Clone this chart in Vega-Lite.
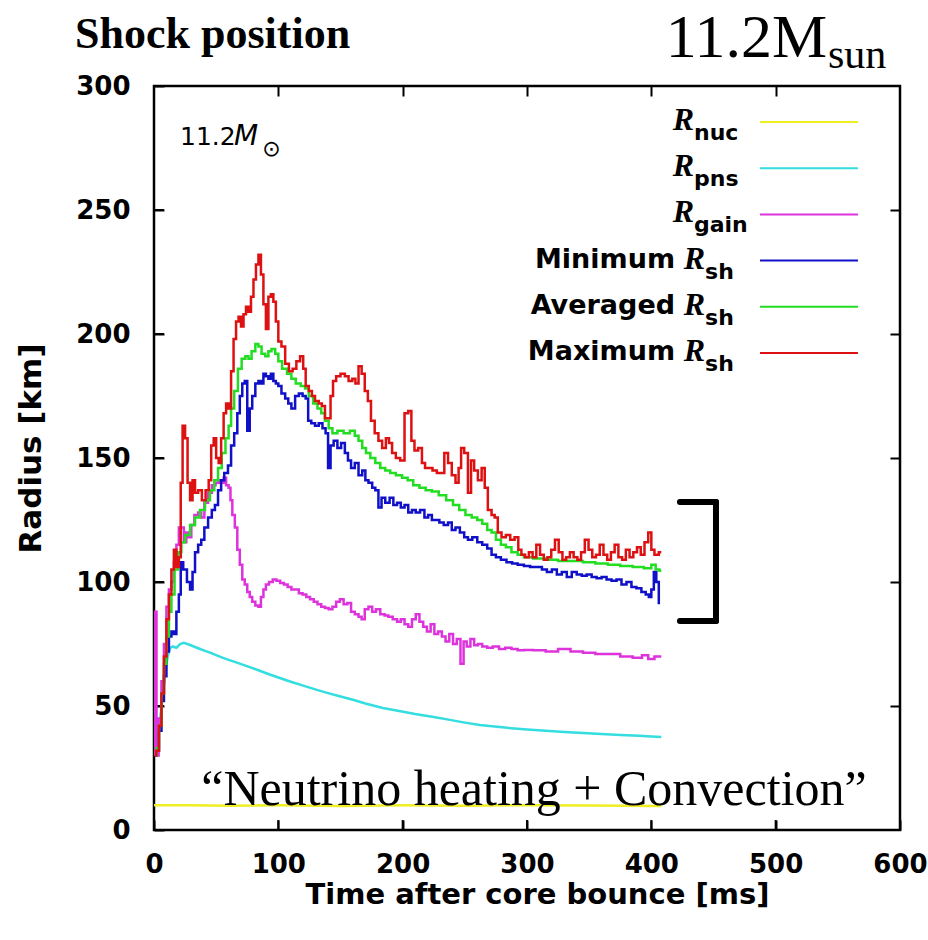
{
  "$schema": "https://vega.github.io/schema/vega-lite/v6.json",
  "width": 746,
  "height": 744,
  "autosize": {"type": "none"},
  "padding": {"left": 154, "top": 86, "right": 28, "bottom": 110},
  "background": "white",
  "config": {"view": {"stroke": "black", "strokeWidth": 2.5}},
  "datasets": {
    "xt": [{"v":100},{"v":200},{"v":300},{"v":400},{"v":500}],
    "yt": [{"v":50},{"v":100},{"v":150},{"v":200},{"v":250}],
    "curves": [
      {"s":"nuc","t":0,"r":10},{"s":"nuc","t":30,"r":10},{"s":"nuc","t":60,"r":9.8},{"s":"nuc","t":100,"r":10},{"s":"nuc","t":150,"r":9.7},{"s":"nuc","t":200,"r":10},{"s":"nuc","t":250,"r":9.8},{"s":"nuc","t":300,"r":10},{"s":"nuc","t":350,"r":9.9},{"s":"nuc","t":408,"r":9.7},
      {"s":"pns","t":1,"r":30},{"s":"pns","t":3,"r":36},{"s":"pns","t":5,"r":45},{"s":"pns","t":7,"r":54},{"s":"pns","t":9,"r":63},{"s":"pns","t":11,"r":70},{"s":"pns","t":13,"r":73.4},{"s":"pns","t":15,"r":74},{"s":"pns","t":18,"r":73.5},{"s":"pns","t":21,"r":75},{"s":"pns","t":24,"r":75.5},{"s":"pns","t":28,"r":74.8},{"s":"pns","t":32,"r":74},{"s":"pns","t":36,"r":73.2},{"s":"pns","t":40,"r":72.4},{"s":"pns","t":45,"r":71.5},{"s":"pns","t":50,"r":70.5},{"s":"pns","t":55,"r":69.5},{"s":"pns","t":60,"r":68.6},{"s":"pns","t":65,"r":67.8},{"s":"pns","t":70,"r":66.9},{"s":"pns","t":77,"r":65.7},{"s":"pns","t":85,"r":64.2},{"s":"pns","t":92,"r":62.9},{"s":"pns","t":100,"r":61.5},{"s":"pns","t":110,"r":59.8},{"s":"pns","t":120,"r":58.2},{"s":"pns","t":131,"r":56.5},{"s":"pns","t":140,"r":55.2},{"s":"pns","t":150,"r":53.8},{"s":"pns","t":160,"r":52.5},{"s":"pns","t":170,"r":51},{"s":"pns","t":184,"r":49.2},{"s":"pns","t":195,"r":48.2},{"s":"pns","t":210,"r":46.8},{"s":"pns","t":225,"r":45.6},{"s":"pns","t":238,"r":44.4},{"s":"pns","t":250,"r":43.3},{"s":"pns","t":262,"r":42.3},{"s":"pns","t":278,"r":41.5},{"s":"pns","t":290,"r":40.9},{"s":"pns","t":300,"r":40.5},{"s":"pns","t":315,"r":40},{"s":"pns","t":330,"r":39.5},{"s":"pns","t":345,"r":39.1},{"s":"pns","t":360,"r":38.7},{"s":"pns","t":375,"r":38.3},{"s":"pns","t":390,"r":38},{"s":"pns","t":400,"r":37.7},{"s":"pns","t":408,"r":37.5},
      {"s":"gain","t":0.5,"r":30},{"s":"gain","t":1.5,"r":88},{"s":"gain","t":2.5,"r":30},{"s":"gain","t":5,"r":45},{"s":"gain","t":7,"r":60},{"s":"gain","t":9,"r":75},{"s":"gain","t":11,"r":90},{"s":"gain","t":13,"r":97},{"s":"gain","t":15,"r":100},{"s":"gain","t":17,"r":108},{"s":"gain","t":19,"r":115},{"s":"gain","t":21,"r":122},{"s":"gain","t":23,"r":122},{"s":"gain","t":25,"r":116},{"s":"gain","t":27,"r":120},{"s":"gain","t":29,"r":118},{"s":"gain","t":31,"r":123},{"s":"gain","t":34,"r":127},{"s":"gain","t":37,"r":128},{"s":"gain","t":39,"r":126},{"s":"gain","t":42,"r":132},{"s":"gain","t":45,"r":136},{"s":"gain","t":48,"r":139},{"s":"gain","t":51,"r":140},{"s":"gain","t":53,"r":141},{"s":"gain","t":55,"r":140},{"s":"gain","t":57,"r":142},{"s":"gain","t":59,"r":139},{"s":"gain","t":61,"r":138},{"s":"gain","t":62,"r":133},{"s":"gain","t":64,"r":127},{"s":"gain","t":66,"r":122},{"s":"gain","t":68,"r":113},{"s":"gain","t":70,"r":107},{"s":"gain","t":72,"r":101},{"s":"gain","t":74,"r":99},{"s":"gain","t":76,"r":96},{"s":"gain","t":78,"r":94},{"s":"gain","t":80,"r":92},{"s":"gain","t":83,"r":90.5},{"s":"gain","t":85,"r":90},{"s":"gain","t":87,"r":94},{"s":"gain","t":89,"r":97},{"s":"gain","t":91,"r":99},{"s":"gain","t":94,"r":100},{"s":"gain","t":97,"r":101},{"s":"gain","t":100,"r":100.5},{"s":"gain","t":103,"r":99.6},{"s":"gain","t":106,"r":99},{"s":"gain","t":109,"r":98},{"s":"gain","t":112,"r":97},{"s":"gain","t":115,"r":97},{"s":"gain","t":118,"r":95.5},{"s":"gain","t":121,"r":95},{"s":"gain","t":124,"r":94},{"s":"gain","t":127,"r":93},{"s":"gain","t":130,"r":92},{"s":"gain","t":133,"r":91},{"s":"gain","t":136,"r":90},{"s":"gain","t":139,"r":89.5},{"s":"gain","t":142,"r":89},{"s":"gain","t":145,"r":90},{"s":"gain","t":148,"r":92},{"s":"gain","t":151,"r":93},{"s":"gain","t":154,"r":91},{"s":"gain","t":157,"r":91.5},{"s":"gain","t":160,"r":88},{"s":"gain","t":163,"r":87},{"s":"gain","t":166,"r":86},{"s":"gain","t":168,"r":85},{"s":"gain","t":171,"r":89},{"s":"gain","t":174,"r":90},{"s":"gain","t":177,"r":88},{"s":"gain","t":180,"r":89},{"s":"gain","t":184,"r":87},{"s":"gain","t":187,"r":86.5},{"s":"gain","t":190,"r":86},{"s":"gain","t":194,"r":85},{"s":"gain","t":197,"r":84},{"s":"gain","t":200,"r":85},{"s":"gain","t":203,"r":83},{"s":"gain","t":206,"r":82},{"s":"gain","t":209,"r":85},{"s":"gain","t":212,"r":87},{"s":"gain","t":215,"r":84},{"s":"gain","t":218,"r":82},{"s":"gain","t":221,"r":80},{"s":"gain","t":224,"r":83},{"s":"gain","t":227,"r":79},{"s":"gain","t":230,"r":80},{"s":"gain","t":233,"r":78},{"s":"gain","t":236,"r":76},{"s":"gain","t":239,"r":79},{"s":"gain","t":242,"r":75},{"s":"gain","t":245,"r":77},{"s":"gain","t":248,"r":67},{"s":"gain","t":250,"r":76},{"s":"gain","t":253,"r":74},{"s":"gain","t":256,"r":77},{"s":"gain","t":259,"r":74.5},{"s":"gain","t":262,"r":75},{"s":"gain","t":266,"r":74},{"s":"gain","t":270,"r":73.5},{"s":"gain","t":275,"r":74},{"s":"gain","t":280,"r":73},{"s":"gain","t":285,"r":73.5},{"s":"gain","t":290,"r":73},{"s":"gain","t":295,"r":72.5},{"s":"gain","t":300,"r":72.6},{"s":"gain","t":310,"r":72.5},{"s":"gain","t":320,"r":72},{"s":"gain","t":330,"r":73},{"s":"gain","t":340,"r":72},{"s":"gain","t":350,"r":71.5},{"s":"gain","t":360,"r":71},{"s":"gain","t":370,"r":71},{"s":"gain","t":380,"r":70},{"s":"gain","t":390,"r":69.5},{"s":"gain","t":395,"r":70.5},{"s":"gain","t":400,"r":69},{"s":"gain","t":405,"r":70},{"s":"gain","t":408,"r":70},
      {"s":"min","t":1,"r":30},{"s":"min","t":3,"r":32},{"s":"min","t":5,"r":40},{"s":"min","t":7,"r":52},{"s":"min","t":9,"r":62},{"s":"min","t":11,"r":72},{"s":"min","t":13,"r":78},{"s":"min","t":15,"r":80},{"s":"min","t":17,"r":79},{"s":"min","t":19,"r":88},{"s":"min","t":21,"r":95},{"s":"min","t":22,"r":108},{"s":"min","t":25,"r":105},{"s":"min","t":28,"r":100},{"s":"min","t":30,"r":97},{"s":"min","t":32,"r":104},{"s":"min","t":34,"r":112},{"s":"min","t":37,"r":115},{"s":"min","t":39,"r":117},{"s":"min","t":42,"r":122},{"s":"min","t":45,"r":126},{"s":"min","t":48,"r":129},{"s":"min","t":50,"r":131},{"s":"min","t":53,"r":137},{"s":"min","t":55,"r":141},{"s":"min","t":58,"r":144},{"s":"min","t":61,"r":147},{"s":"min","t":63,"r":155},{"s":"min","t":66,"r":160},{"s":"min","t":68,"r":168},{"s":"min","t":70,"r":175},{"s":"min","t":72,"r":180},{"s":"min","t":74,"r":181},{"s":"min","t":76,"r":161},{"s":"min","t":78,"r":170},{"s":"min","t":80,"r":175},{"s":"min","t":83,"r":180},{"s":"min","t":85,"r":181},{"s":"min","t":87,"r":180},{"s":"min","t":89,"r":184},{"s":"min","t":91,"r":183},{"s":"min","t":93,"r":182},{"s":"min","t":95,"r":184},{"s":"min","t":97,"r":181},{"s":"min","t":99,"r":180},{"s":"min","t":101,"r":179},{"s":"min","t":104,"r":176},{"s":"min","t":107,"r":174},{"s":"min","t":109,"r":172},{"s":"min","t":112,"r":170},{"s":"min","t":115,"r":175},{"s":"min","t":118,"r":176},{"s":"min","t":121,"r":175},{"s":"min","t":123,"r":174},{"s":"min","t":125,"r":165},{"s":"min","t":128,"r":164},{"s":"min","t":131,"r":163},{"s":"min","t":134,"r":164},{"s":"min","t":137,"r":162},{"s":"min","t":139,"r":160},{"s":"min","t":141,"r":146},{"s":"min","t":143,"r":155},{"s":"min","t":146,"r":157},{"s":"min","t":149,"r":154},{"s":"min","t":152,"r":156},{"s":"min","t":155,"r":152},{"s":"min","t":157,"r":149},{"s":"min","t":160,"r":146},{"s":"min","t":163,"r":148},{"s":"min","t":166,"r":143},{"s":"min","t":169,"r":145},{"s":"min","t":171,"r":141},{"s":"min","t":174,"r":140},{"s":"min","t":177,"r":138},{"s":"min","t":179,"r":137},{"s":"min","t":182,"r":130},{"s":"min","t":184,"r":134},{"s":"min","t":188,"r":132},{"s":"min","t":191,"r":134},{"s":"min","t":194,"r":131},{"s":"min","t":197,"r":132},{"s":"min","t":200,"r":130},{"s":"min","t":203,"r":131},{"s":"min","t":206,"r":128},{"s":"min","t":209,"r":129},{"s":"min","t":212,"r":128},{"s":"min","t":216,"r":129},{"s":"min","t":219,"r":126},{"s":"min","t":222,"r":127},{"s":"min","t":225,"r":125},{"s":"min","t":228,"r":125},{"s":"min","t":231,"r":124},{"s":"min","t":235,"r":123},{"s":"min","t":238,"r":124},{"s":"min","t":241,"r":121},{"s":"min","t":244,"r":122},{"s":"min","t":248,"r":120},{"s":"min","t":251,"r":118},{"s":"min","t":254,"r":117},{"s":"min","t":258,"r":118},{"s":"min","t":262,"r":116},{"s":"min","t":266,"r":115},{"s":"min","t":270,"r":113.5},{"s":"min","t":273,"r":111},{"s":"min","t":277,"r":110},{"s":"min","t":281,"r":109},{"s":"min","t":286,"r":108},{"s":"min","t":290,"r":107.5},{"s":"min","t":295,"r":107},{"s":"min","t":300,"r":106.5},{"s":"min","t":305,"r":106},{"s":"min","t":310,"r":106},{"s":"min","t":314,"r":105},{"s":"min","t":318,"r":104},{"s":"min","t":322,"r":105},{"s":"min","t":326,"r":103},{"s":"min","t":330,"r":104},{"s":"min","t":334,"r":102},{"s":"min","t":338,"r":104},{"s":"min","t":342,"r":103},{"s":"min","t":346,"r":102.5},{"s":"min","t":350,"r":103},{"s":"min","t":354,"r":102},{"s":"min","t":358,"r":101.5},{"s":"min","t":362,"r":102},{"s":"min","t":366,"r":101},{"s":"min","t":370,"r":100.5},{"s":"min","t":374,"r":101},{"s":"min","t":378,"r":99},{"s":"min","t":382,"r":100},{"s":"min","t":386,"r":98},{"s":"min","t":390,"r":97.5},{"s":"min","t":394,"r":96},{"s":"min","t":397,"r":95},{"s":"min","t":399,"r":94},{"s":"min","t":401,"r":97},{"s":"min","t":403,"r":104},{"s":"min","t":405,"r":100},{"s":"min","t":407,"r":91.5},
      {"s":"avg","t":1,"r":30},{"s":"avg","t":3,"r":33},{"s":"avg","t":5,"r":42},{"s":"avg","t":7,"r":55},{"s":"avg","t":9,"r":67},{"s":"avg","t":11,"r":78},{"s":"avg","t":13,"r":88},{"s":"avg","t":15,"r":95},{"s":"avg","t":18,"r":105},{"s":"avg","t":21,"r":112},{"s":"avg","t":23,"r":116},{"s":"avg","t":27,"r":119},{"s":"avg","t":31,"r":123},{"s":"avg","t":35,"r":126},{"s":"avg","t":39,"r":129},{"s":"avg","t":43,"r":133},{"s":"avg","t":47,"r":137},{"s":"avg","t":50,"r":141},{"s":"avg","t":53,"r":146},{"s":"avg","t":56,"r":152},{"s":"avg","t":59,"r":158},{"s":"avg","t":61,"r":163},{"s":"avg","t":63,"r":170},{"s":"avg","t":66,"r":177},{"s":"avg","t":69,"r":186},{"s":"avg","t":72,"r":190},{"s":"avg","t":75,"r":191},{"s":"avg","t":77,"r":190},{"s":"avg","t":80,"r":193},{"s":"avg","t":83,"r":196},{"s":"avg","t":85,"r":195},{"s":"avg","t":88,"r":192},{"s":"avg","t":91,"r":191},{"s":"avg","t":93,"r":193},{"s":"avg","t":96,"r":194},{"s":"avg","t":99,"r":192},{"s":"avg","t":101,"r":189},{"s":"avg","t":105,"r":186},{"s":"avg","t":109,"r":184},{"s":"avg","t":112,"r":182},{"s":"avg","t":116,"r":180},{"s":"avg","t":120,"r":179},{"s":"avg","t":123,"r":178},{"s":"avg","t":126,"r":175},{"s":"avg","t":130,"r":172},{"s":"avg","t":133,"r":170},{"s":"avg","t":136,"r":168},{"s":"avg","t":139,"r":165},{"s":"avg","t":142,"r":162},{"s":"avg","t":145,"r":160},{"s":"avg","t":150,"r":161},{"s":"avg","t":155,"r":160},{"s":"avg","t":160,"r":161},{"s":"avg","t":163,"r":159},{"s":"avg","t":166,"r":157},{"s":"avg","t":169,"r":154},{"s":"avg","t":172,"r":152},{"s":"avg","t":176,"r":150},{"s":"avg","t":180,"r":148},{"s":"avg","t":184,"r":146},{"s":"avg","t":188,"r":145},{"s":"avg","t":192,"r":144},{"s":"avg","t":197,"r":143},{"s":"avg","t":202,"r":142},{"s":"avg","t":206,"r":141},{"s":"avg","t":211,"r":139},{"s":"avg","t":216,"r":138},{"s":"avg","t":221,"r":137},{"s":"avg","t":226,"r":136.5},{"s":"avg","t":232,"r":135},{"s":"avg","t":238,"r":133},{"s":"avg","t":243,"r":131},{"s":"avg","t":248,"r":129},{"s":"avg","t":253,"r":127},{"s":"avg","t":258,"r":126},{"s":"avg","t":262,"r":125},{"s":"avg","t":266,"r":123.5},{"s":"avg","t":270,"r":121},{"s":"avg","t":273,"r":120},{"s":"avg","t":277,"r":117},{"s":"avg","t":281,"r":115},{"s":"avg","t":285,"r":114},{"s":"avg","t":290,"r":112},{"s":"avg","t":295,"r":111},{"s":"avg","t":300,"r":110},{"s":"avg","t":310,"r":109.5},{"s":"avg","t":320,"r":109},{"s":"avg","t":330,"r":108.5},{"s":"avg","t":340,"r":108.5},{"s":"avg","t":350,"r":108},{"s":"avg","t":360,"r":107.5},{"s":"avg","t":370,"r":107},{"s":"avg","t":380,"r":106.5},{"s":"avg","t":390,"r":106},{"s":"avg","t":398,"r":105.5},{"s":"avg","t":402,"r":107},{"s":"avg","t":405,"r":105},{"s":"avg","t":408,"r":104.5},
      {"s":"max","t":0.5,"r":30},{"s":"max","t":3,"r":32},{"s":"max","t":5,"r":42},{"s":"max","t":7,"r":55},{"s":"max","t":9,"r":70},{"s":"max","t":11,"r":85},{"s":"max","t":13,"r":95},{"s":"max","t":15,"r":105},{"s":"max","t":17,"r":113},{"s":"max","t":19,"r":106},{"s":"max","t":21,"r":110},{"s":"max","t":22,"r":140},{"s":"max","t":24,"r":163},{"s":"max","t":26,"r":158},{"s":"max","t":28,"r":140},{"s":"max","t":30,"r":133},{"s":"max","t":32,"r":141},{"s":"max","t":34,"r":136},{"s":"max","t":37,"r":137},{"s":"max","t":40,"r":133},{"s":"max","t":43,"r":137},{"s":"max","t":45,"r":141},{"s":"max","t":47,"r":155},{"s":"max","t":49,"r":158},{"s":"max","t":51,"r":150},{"s":"max","t":53,"r":148},{"s":"max","t":55,"r":158},{"s":"max","t":57,"r":168},{"s":"max","t":59,"r":172},{"s":"max","t":61,"r":170},{"s":"max","t":63,"r":185},{"s":"max","t":65,"r":198},{"s":"max","t":67,"r":205},{"s":"max","t":69,"r":207},{"s":"max","t":71,"r":203},{"s":"max","t":73,"r":208},{"s":"max","t":75,"r":211},{"s":"max","t":77,"r":209},{"s":"max","t":79,"r":215},{"s":"max","t":81,"r":222},{"s":"max","t":83,"r":228},{"s":"max","t":85,"r":232},{"s":"max","t":87,"r":224},{"s":"max","t":89,"r":212},{"s":"max","t":91,"r":202},{"s":"max","t":93,"r":215},{"s":"max","t":95,"r":216},{"s":"max","t":97,"r":213},{"s":"max","t":99,"r":205},{"s":"max","t":101,"r":197},{"s":"max","t":104,"r":195},{"s":"max","t":107,"r":188},{"s":"max","t":110,"r":185},{"s":"max","t":113,"r":186},{"s":"max","t":116,"r":189},{"s":"max","t":119,"r":191},{"s":"max","t":121,"r":186},{"s":"max","t":123,"r":179},{"s":"max","t":126,"r":177},{"s":"max","t":128,"r":175},{"s":"max","t":131,"r":173},{"s":"max","t":134,"r":172},{"s":"max","t":136,"r":171},{"s":"max","t":139,"r":166},{"s":"max","t":141,"r":166},{"s":"max","t":143,"r":175},{"s":"max","t":145,"r":181},{"s":"max","t":148,"r":183},{"s":"max","t":152,"r":184},{"s":"max","t":155,"r":183},{"s":"max","t":158,"r":181},{"s":"max","t":161,"r":182},{"s":"max","t":163,"r":180},{"s":"max","t":166,"r":187},{"s":"max","t":168,"r":184},{"s":"max","t":171,"r":177},{"s":"max","t":173,"r":173},{"s":"max","t":176,"r":165},{"s":"max","t":179,"r":160},{"s":"max","t":182,"r":157},{"s":"max","t":185,"r":154},{"s":"max","t":188,"r":158},{"s":"max","t":190,"r":156},{"s":"max","t":193,"r":152},{"s":"max","t":196,"r":150},{"s":"max","t":200,"r":149},{"s":"max","t":203,"r":168},{"s":"max","t":206,"r":169},{"s":"max","t":208,"r":157},{"s":"max","t":211,"r":153},{"s":"max","t":214,"r":154},{"s":"max","t":217,"r":148},{"s":"max","t":219,"r":146},{"s":"max","t":222,"r":146},{"s":"max","t":226,"r":145},{"s":"max","t":229,"r":144},{"s":"max","t":232,"r":144},{"s":"max","t":235,"r":152},{"s":"max","t":238,"r":148},{"s":"max","t":241,"r":143},{"s":"max","t":244,"r":140},{"s":"max","t":246,"r":146},{"s":"max","t":248,"r":154},{"s":"max","t":251,"r":152},{"s":"max","t":254,"r":136},{"s":"max","t":256,"r":149},{"s":"max","t":259,"r":145},{"s":"max","t":262,"r":141},{"s":"max","t":265,"r":146},{"s":"max","t":267,"r":138},{"s":"max","t":270,"r":129},{"s":"max","t":273,"r":127},{"s":"max","t":275,"r":126},{"s":"max","t":278,"r":120},{"s":"max","t":281,"r":118},{"s":"max","t":285,"r":119},{"s":"max","t":288,"r":117},{"s":"max","t":292,"r":118},{"s":"max","t":294,"r":113},{"s":"max","t":297,"r":111},{"s":"max","t":300,"r":110},{"s":"max","t":303,"r":112},{"s":"max","t":306,"r":110},{"s":"max","t":309,"r":115},{"s":"max","t":312,"r":111},{"s":"max","t":315,"r":109},{"s":"max","t":318,"r":110},{"s":"max","t":321,"r":113},{"s":"max","t":324,"r":117},{"s":"max","t":327,"r":112},{"s":"max","t":330,"r":109},{"s":"max","t":333,"r":110},{"s":"max","t":336,"r":112},{"s":"max","t":339,"r":110},{"s":"max","t":342,"r":109},{"s":"max","t":345,"r":112},{"s":"max","t":348,"r":117},{"s":"max","t":351,"r":113},{"s":"max","t":354,"r":110},{"s":"max","t":357,"r":111},{"s":"max","t":360,"r":115},{"s":"max","t":363,"r":111},{"s":"max","t":366,"r":109},{"s":"max","t":369,"r":112},{"s":"max","t":372,"r":115},{"s":"max","t":375,"r":110},{"s":"max","t":378,"r":109},{"s":"max","t":381,"r":113},{"s":"max","t":384,"r":110},{"s":"max","t":387,"r":112},{"s":"max","t":390,"r":114},{"s":"max","t":393,"r":111},{"s":"max","t":396,"r":116},{"s":"max","t":399,"r":120},{"s":"max","t":401,"r":113},{"s":"max","t":404,"r":111},{"s":"max","t":408,"r":112}
    ],
    "leg": [
      {"s":"nuc","pre":"","sub":"nuc"},
      {"s":"pns","pre":"","sub":"pns"},
      {"s":"gain","pre":"","sub":"gain"},
      {"s":"min","pre":"Minimum","sub":"sh"},
      {"s":"avg","pre":"Averaged","sub":"sh"},
      {"s":"max","pre":"Maximum","sub":"sh"}
    ]
  },
  "layer": [
    {
      "data": {"name": "curves"},
      "transform": [{"filter": "datum.s == 'nuc' || datum.s == 'pns'"}],
      "mark": {"type": "line", "strokeWidth": 2.5, "clip": true},
      "encoding": {
        "x": {"field": "t", "type": "quantitative", "scale": {"domain": [0, 600], "nice": false, "zero": false},
          "axis": {"orient": "bottom", "values": [0,100,200,300,400,500,600], "title": "Time after core bounce [ms]", "grid": false, "domain": false,
            "tickSize": -10, "tickWidth": 2, "tickColor": "black", "labelFont": "DejaVu Sans", "labelFontWeight": "bold", "labelFontSize": 26,
            "labelColor": "black", "labelPadding": 31, "labelFlush": false, "labelOverlap": false,
            "titleFont": "DejaVu Sans", "titleFontWeight": "bold", "titleFontSize": 29, "titleColor": "black", "titlePadding": 3, "titleX": 383}},
        "y": {"field": "r", "type": "quantitative", "scale": {"domain": [0, 300], "nice": false, "zero": false},
          "axis": {"orient": "left", "values": [0,50,100,150,200,250,300], "title": "Radius [km]", "grid": false, "domain": false,
            "tickSize": -10, "tickWidth": 2, "tickColor": "black", "labelFont": "DejaVu Sans", "labelFontWeight": "bold", "labelFontSize": 26,
            "labelColor": "black", "labelPadding": 34, "labelFlush": false, "labelOverlap": false,
            "titleFont": "DejaVu Sans", "titleFontWeight": "bold", "titleFontSize": 31, "titleColor": "black", "titlePadding": 28, "titleY": 362}},
        "color": {"field": "s", "type": "nominal", "legend": null,
          "scale": {"domain": ["nuc","pns","gain","min","avg","max"], "range": ["#eeee22","#33dde0","#dd33dd","#1010c8","#22dd22","#dd1111"]}}
      }
    },
    {
      "data": {"values": [{}]},
      "mark": {"type": "point", "opacity": 0},
      "encoding": {
        "x": {"datum": 0, "type": "quantitative", "scale": {"domain": [0, 600], "nice": false, "zero": false},
          "axis": {"orient": "top", "values": [100,200,300,400,500], "labels": false, "domain": false, "grid": false, "tickSize": -10, "tickWidth": 2, "tickColor": "black", "title": null}},
        "y": {"datum": 0, "type": "quantitative", "scale": {"domain": [0, 300], "nice": false, "zero": false},
          "axis": {"orient": "right", "values": [50,100,150,200,250], "labels": false, "domain": false, "grid": false, "tickSize": -10, "tickWidth": 2, "tickColor": "black", "title": null}}
      }
    },
    {
      "data": {"name": "xt"},
      "mark": {"type": "rule", "stroke": "black", "strokeWidth": 2},
      "encoding": {
        "x": {"field": "v", "type": "quantitative", "scale": {"domain": [0, 600], "nice": false, "zero": false}, "axis": null},
        "y": {"datum": 0, "type": "quantitative", "scale": {"domain": [0, 300], "nice": false, "zero": false}, "axis": null},
        "y2": {"datum": 4}
      }
    },
    {
      "data": {"name": "yt"},
      "mark": {"type": "rule", "stroke": "black", "strokeWidth": 2},
      "encoding": {
        "y": {"field": "v", "type": "quantitative", "scale": {"domain": [0, 300], "nice": false, "zero": false}, "axis": null},
        "x": {"datum": 0, "type": "quantitative", "scale": {"domain": [0, 600], "nice": false, "zero": false}, "axis": null},
        "x2": {"datum": 8}
      }
    },
    {
      "data": {"name": "curves"},
      "transform": [{"filter": "datum.s != 'nuc' && datum.s != 'pns'"}],
      "mark": {"type": "line", "strokeWidth": 2.5, "interpolate": "step", "clip": true},
      "encoding": {
        "x": {"field": "t", "type": "quantitative", "scale": {"domain": [0, 600], "nice": false, "zero": false}, "axis": null},
        "y": {"field": "r", "type": "quantitative", "scale": {"domain": [0, 300], "nice": false, "zero": false}, "axis": null},
        "color": {"field": "s", "type": "nominal", "legend": null,
          "scale": {"domain": ["nuc","pns","gain","min","avg","max"], "range": ["#eeee22","#33dde0","#dd33dd","#1010c8","#22dd22","#dd1111"]}}
      }
    },
    {
      "data": {"values": [{}]},
      "mark": {"type": "rule", "stroke": "black", "strokeWidth": 6, "strokeCap": "round"},
      "encoding": {
        "x": {"datum": 423, "type": "quantitative", "scale": {"domain": [0, 600], "nice": false, "zero": false}, "axis": null},
        "x2": {"datum": 452},
        "y": {"datum": 132.3, "type": "quantitative", "scale": {"domain": [0, 300], "nice": false, "zero": false}, "axis": null}
      }
    },
    {
      "data": {"values": [{}]},
      "mark": {"type": "rule", "stroke": "black", "strokeWidth": 6, "strokeCap": "round"},
      "encoding": {
        "x": {"datum": 423, "type": "quantitative", "scale": {"domain": [0, 600], "nice": false, "zero": false}, "axis": null},
        "x2": {"datum": 452},
        "y": {"datum": 84.3, "type": "quantitative", "scale": {"domain": [0, 300], "nice": false, "zero": false}, "axis": null}
      }
    },
    {
      "data": {"values": [{}]},
      "mark": {"type": "rule", "stroke": "black", "strokeWidth": 6, "strokeCap": "round"},
      "encoding": {
        "x": {"datum": 452, "type": "quantitative", "scale": {"domain": [0, 600], "nice": false, "zero": false}, "axis": null},
        "y": {"datum": 84.3, "type": "quantitative", "scale": {"domain": [0, 300], "nice": false, "zero": false}, "axis": null},
        "y2": {"datum": 132.3}
      }
    },
    {
      "data": {"values": [{}]},
      "mark": {"type": "text", "text": "Shock position", "font": "Liberation Serif", "fontWeight": "bold", "fontSize": 44, "align": "left", "baseline": "alphabetic", "color": "black"},
      "encoding": {
        "x": {"datum": -63.5, "type": "quantitative", "scale": {"domain": [0, 600], "nice": false, "zero": false}, "axis": null},
        "y": {"datum": 315.3, "type": "quantitative", "scale": {"domain": [0, 300], "nice": false, "zero": false}, "axis": null}
      }
    },
    {
      "data": {"values": [{}]},
      "mark": {"type": "text", "text": "11.2M", "font": "Liberation Serif", "fontSize": 62, "align": "right", "baseline": "alphabetic", "color": "black"},
      "encoding": {
        "x": {"datum": 541.3, "type": "quantitative", "scale": {"domain": [0, 600], "nice": false, "zero": false}, "axis": null},
        "y": {"datum": 311.7, "type": "quantitative", "scale": {"domain": [0, 300], "nice": false, "zero": false}, "axis": null}
      }
    },
    {
      "data": {"values": [{}]},
      "mark": {"type": "text", "text": "sun", "font": "Liberation Serif", "fontSize": 42, "align": "left", "baseline": "alphabetic", "color": "black"},
      "encoding": {
        "x": {"datum": 542, "type": "quantitative", "scale": {"domain": [0, 600], "nice": false, "zero": false}, "axis": null},
        "y": {"datum": 307.3, "type": "quantitative", "scale": {"domain": [0, 300], "nice": false, "zero": false}, "axis": null}
      }
    },
    {
      "data": {"values": [{}]},
      "mark": {"type": "text", "text": "“Neutrino heating + Convection”", "font": "Liberation Serif", "fontSize": 50, "align": "center", "baseline": "alphabetic", "color": "black"},
      "encoding": {
        "x": {"datum": 305.6, "type": "quantitative", "scale": {"domain": [0, 600], "nice": false, "zero": false}, "axis": null},
        "y": {"datum": 10.1, "type": "quantitative", "scale": {"domain": [0, 300], "nice": false, "zero": false}, "axis": null}
      }
    },
    {
      "data": {"values": [{}]},
      "mark": {"type": "text", "text": "11.2", "font": "DejaVu Sans", "fontSize": 25, "align": "left", "baseline": "alphabetic", "color": "black"},
      "encoding": {
        "x": {"datum": 20.9, "type": "quantitative", "scale": {"domain": [0, 600], "nice": false, "zero": false}, "axis": null},
        "y": {"datum": 276.2, "type": "quantitative", "scale": {"domain": [0, 300], "nice": false, "zero": false}, "axis": null}
      }
    },
    {
      "data": {"values": [{}]},
      "mark": {"type": "text", "text": "M", "font": "DejaVu Sans", "fontStyle": "italic", "fontSize": 28, "align": "left", "baseline": "alphabetic", "color": "black"},
      "encoding": {
        "x": {"datum": 64.3, "type": "quantitative", "scale": {"domain": [0, 600], "nice": false, "zero": false}, "axis": null},
        "y": {"datum": 276.2, "type": "quantitative", "scale": {"domain": [0, 300], "nice": false, "zero": false}, "axis": null}
      }
    },
    {
      "data": {"values": [{}]},
      "mark": {"type": "text", "text": "⊙", "font": "DejaVu Sans", "fontSize": 22, "align": "left", "baseline": "alphabetic", "color": "black"},
      "encoding": {
        "x": {"datum": 87, "type": "quantitative", "scale": {"domain": [0, 600], "nice": false, "zero": false}, "axis": null},
        "y": {"datum": 271.8, "type": "quantitative", "scale": {"domain": [0, 300], "nice": false, "zero": false}, "axis": null}
      }
    },
    {
      "data": {"name": "leg"},
      "transform": [{"filter": "datum.pre == ''"}],
      "mark": {"type": "text", "text": "R", "font": "Liberation Serif", "fontStyle": "italic", "fontWeight": "bold", "fontSize": 32, "align": "right", "baseline": "alphabetic", "dy": 8, "color": "black"},
      "encoding": {
        "x": {"datum": 434.3, "type": "quantitative", "scale": {"domain": [0, 600], "nice": false, "zero": false}, "axis": null},
        "y": {"datum": 300, "type": "quantitative", "scale": {"domain": [0, 300], "nice": false, "zero": false}, "axis": null},
        "yOffset": {"field": "s", "type": "nominal", "scale": {"type": "point", "domain": ["nuc","pns","gain","min","avg","max"], "range": [36, 267], "padding": 0}}
      }
    },
    {
      "data": {"name": "leg"},
      "transform": [{"filter": "datum.pre == ''"}],
      "mark": {"type": "text", "font": "DejaVu Sans", "fontWeight": "bold", "fontSize": 22, "align": "left", "baseline": "alphabetic", "dy": 18, "color": "black"},
      "encoding": {
        "text": {"field": "sub"},
        "x": {"datum": 434.3, "type": "quantitative", "scale": {"domain": [0, 600], "nice": false, "zero": false}, "axis": null},
        "y": {"datum": 300, "type": "quantitative", "scale": {"domain": [0, 300], "nice": false, "zero": false}, "axis": null},
        "yOffset": {"field": "s", "type": "nominal", "scale": {"type": "point", "domain": ["nuc","pns","gain","min","avg","max"], "range": [36, 267], "padding": 0}}
      }
    },
    {
      "data": {"name": "leg"},
      "transform": [{"filter": "datum.pre != ''"}],
      "mark": {"type": "text", "text": "R", "font": "Liberation Serif", "fontStyle": "italic", "fontWeight": "bold", "fontSize": 32, "align": "right", "baseline": "alphabetic", "dy": 8, "color": "black"},
      "encoding": {
        "x": {"datum": 443.2, "type": "quantitative", "scale": {"domain": [0, 600], "nice": false, "zero": false}, "axis": null},
        "y": {"datum": 300, "type": "quantitative", "scale": {"domain": [0, 300], "nice": false, "zero": false}, "axis": null},
        "yOffset": {"field": "s", "type": "nominal", "scale": {"type": "point", "domain": ["nuc","pns","gain","min","avg","max"], "range": [36, 267], "padding": 0}}
      }
    },
    {
      "data": {"name": "leg"},
      "transform": [{"filter": "datum.pre != ''"}],
      "mark": {"type": "text", "font": "DejaVu Sans", "fontWeight": "bold", "fontSize": 22, "align": "left", "baseline": "alphabetic", "dy": 18, "color": "black"},
      "encoding": {
        "text": {"field": "sub"},
        "x": {"datum": 443.2, "type": "quantitative", "scale": {"domain": [0, 600], "nice": false, "zero": false}, "axis": null},
        "y": {"datum": 300, "type": "quantitative", "scale": {"domain": [0, 300], "nice": false, "zero": false}, "axis": null},
        "yOffset": {"field": "s", "type": "nominal", "scale": {"type": "point", "domain": ["nuc","pns","gain","min","avg","max"], "range": [36, 267], "padding": 0}}
      }
    },
    {
      "data": {"name": "leg"},
      "transform": [{"filter": "datum.pre != ''"}],
      "mark": {"type": "text", "font": "DejaVu Sans", "fontWeight": "bold", "fontSize": 27, "align": "right", "baseline": "alphabetic", "dx": -30, "dy": 7, "color": "black"},
      "encoding": {
        "text": {"field": "pre"},
        "x": {"datum": 443.2, "type": "quantitative", "scale": {"domain": [0, 600], "nice": false, "zero": false}, "axis": null},
        "y": {"datum": 300, "type": "quantitative", "scale": {"domain": [0, 300], "nice": false, "zero": false}, "axis": null},
        "yOffset": {"field": "s", "type": "nominal", "scale": {"type": "point", "domain": ["nuc","pns","gain","min","avg","max"], "range": [36, 267], "padding": 0}}
      }
    },
    {
      "data": {"name": "leg"},
      "mark": {"type": "rule", "strokeWidth": 2},
      "encoding": {
        "x": {"datum": 487.4, "type": "quantitative", "scale": {"domain": [0, 600], "nice": false, "zero": false}, "axis": null},
        "x2": {"datum": 566.2},
        "y": {"datum": 300, "type": "quantitative", "scale": {"domain": [0, 300], "nice": false, "zero": false}, "axis": null},
        "yOffset": {"field": "s", "type": "nominal", "scale": {"type": "point", "domain": ["nuc","pns","gain","min","avg","max"], "range": [36, 267], "padding": 0}},
        "color": {"field": "s", "type": "nominal", "legend": null,
          "scale": {"domain": ["nuc","pns","gain","min","avg","max"], "range": ["#eeee22","#33dde0","#dd33dd","#1010c8","#22dd22","#dd1111"]}}
      }
    }
  ],
  "resolve": {"axis": {"x": "independent", "y": "independent"}}
}
